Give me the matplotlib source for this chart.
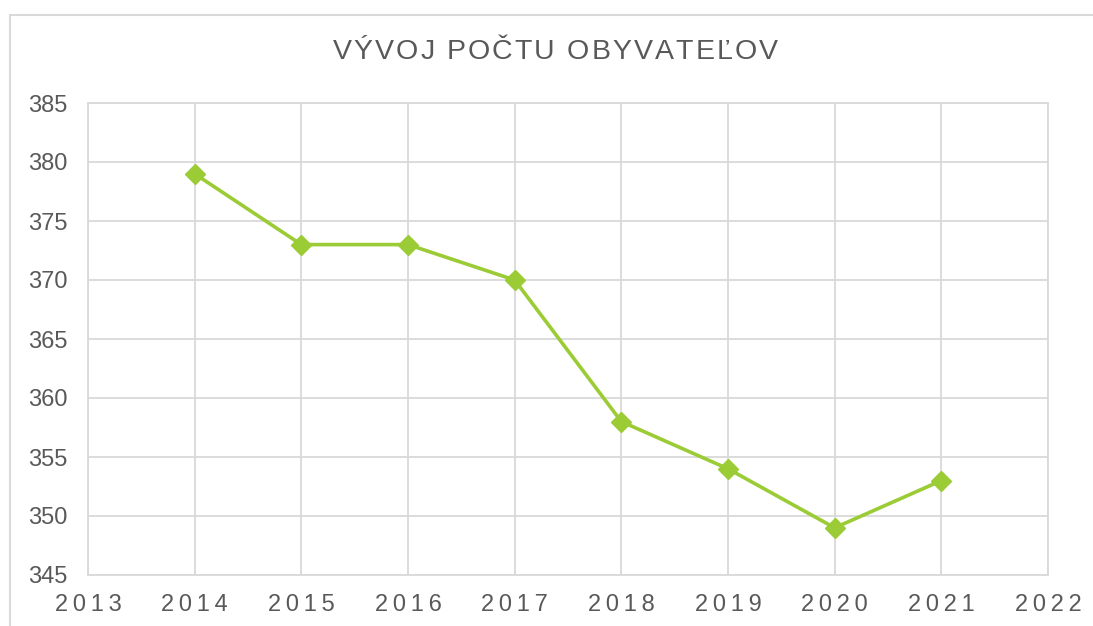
import matplotlib.pyplot as plt
from matplotlib.patches import Rectangle

# Data
years = [2014, 2015, 2016, 2017, 2018, 2019, 2020, 2021]
population = [379, 373, 373, 370, 358, 354, 349, 353]
x_ticks = list(range(2013, 2023))
y_ticks = list(range(345, 386, 5))
title = "VÝVOJ POČTU OBYVATEĽOV"

line_color = '#9BCB35'
grid_color = '#d9d9d9'
text_color = '#595959'
thin = '\u2009'

W, H = 1093, 626

plt.rcParams['font.family'] = ['Liberation Sans', 'DejaVu Sans']

fig = plt.figure(figsize=(W / 100, H / 100), dpi=100)
ax = fig.add_axes([88 / W, 1 - 575 / H, (1048 - 88) / W, (575 - 103) / H])

# Outer chart frame (cut off at right and bottom)
fig.patches.append(Rectangle((10 / W, -0.1), 1.2, 1 - 15 / H + 0.1,
                             transform=fig.transFigure, fill=False,
                             edgecolor=grid_color, linewidth=1.5))

ax.plot(years, population, color=line_color, linewidth=2.6,
        marker='D', markersize=10, zorder=3, clip_on=False)

ax.set_xlim(2013, 2022)
ax.set_ylim(345, 385)
ax.set_xticks(x_ticks)
ax.set_xticklabels([thin.join(str(v)) for v in x_ticks])
ax.set_yticks(y_ticks)
ax.tick_params(axis='both', length=0, labelsize=17, labelcolor=text_color)
ax.tick_params(axis='y', pad=15)
ax.tick_params(axis='x', pad=14)
ax.grid(True, color=grid_color, linewidth=1.3)
ax.set_axisbelow(True)
for sp in ax.spines.values():
    sp.set_color(grid_color)
    sp.set_linewidth(1.3)

# Title with wide character spacing, placed letter by letter
renderer = fig.canvas.get_renderer()
chars = []
for ch in title:
    t = fig.text(0, 1 - 52 / H, ch, ha='left', va='center',
                 fontsize=20.5, color=text_color)
    w = t.get_window_extent(renderer).width if ch != ' ' else 8
    chars.append((t, w))
spacing = 2.1
total = sum(w for _, w in chars) + spacing * (len(chars) - 1)
x = 555 - total / 2
for t, w in chars:
    t.set_x(x / W)
    x += w + spacing

fig.savefig('out.png', dpi=100)
